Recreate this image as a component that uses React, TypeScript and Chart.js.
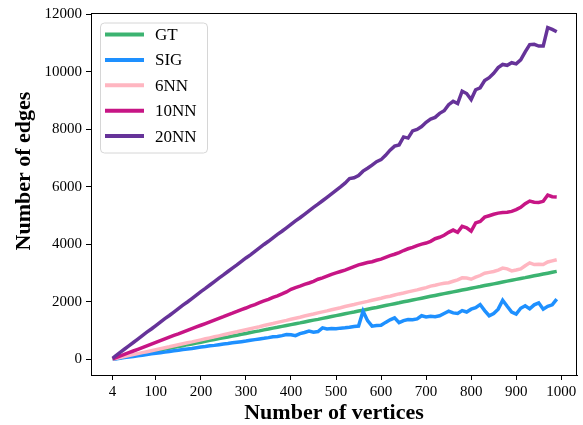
import React, { useEffect, useRef } from "react";
import { Chart, registerables } from "chart.js";

Chart.register(...registerables);

const vertices = [4, 10, 20, 30, 40, 50, 60, 70, 80, 90, 100, 110, 120, 130, 140, 150, 160, 170, 180, 190, 200, 210, 220, 230, 240, 250, 260, 270, 280, 290, 300, 310, 320, 330, 340, 350, 360, 370, 380, 390, 400, 410, 420, 430, 440, 450, 460, 470, 480, 490, 500, 510, 520, 530, 540, 550, 560, 570, 580, 590, 600, 610, 620, 630, 640, 650, 660, 670, 680, 690, 700, 710, 720, 730, 740, 750, 760, 770, 780, 790, 800, 810, 820, 830, 840, 850, 860, 870, 880, 890, 900, 910, 920, 930, 940, 950, 960, 970, 980, 990];

const gt = [10, 30, 60, 90, 120, 150, 180, 212, 240, 272, 300, 330, 362, 390, 420, 452, 480, 515, 540, 575, 600, 632, 665, 690, 725, 755, 782, 815, 845, 875, 905, 935, 968, 995, 1030, 1058, 1090, 1118, 1150, 1180, 1212, 1245, 1272, 1305, 1335, 1368, 1395, 1430, 1460, 1492, 1525, 1555, 1588, 1620, 1650, 1685, 1715, 1748, 1780, 1810, 1845, 1875, 1908, 1940, 1970, 2005, 2035, 2068, 2100, 2132, 2165, 2196, 2228, 2258, 2290, 2320, 2352, 2382, 2415, 2444, 2475, 2508, 2537, 2570, 2599, 2630, 2662, 2692, 2725, 2754, 2785, 2818, 2847, 2880, 2909, 2940, 2972, 3002, 3035, 3064];

const sig = [5, 20, 40, 65, 85, 105, 130, 150, 170, 195, 215, 235, 255, 280, 300, 320, 345, 365, 385, 410, 430, 450, 475, 490, 515, 540, 555, 580, 600, 620, 640, 665, 690, 715, 735, 760, 790, 800, 830, 870, 860, 830, 900, 940, 985, 950, 970, 1100, 1060, 1080, 1070, 1090, 1100, 1120, 1150, 1160, 1680, 1350, 1160, 1180, 1190, 1290, 1380, 1450, 1280, 1350, 1390, 1380, 1410, 1520, 1480, 1500, 1490, 1520, 1600, 1680, 1620, 1600, 1700, 1650, 1750, 1800, 1910, 1700, 1520, 1600, 1750, 2060, 1850, 1650, 1580, 1780, 1870, 1760, 1900, 1970, 1750, 1850, 1900, 2100];

const nn6 = [13, 35, 68, 102, 135, 170, 203, 238, 270, 305, 338, 372, 408, 440, 476, 510, 545, 580, 612, 648, 682, 718, 752, 788, 822, 858, 893, 928, 962, 1000, 1035, 1070, 1108, 1140, 1180, 1215, 1250, 1290, 1325, 1360, 1400, 1435, 1470, 1510, 1545, 1580, 1620, 1655, 1690, 1730, 1765, 1800, 1840, 1875, 1910, 1950, 1985, 2020, 2060, 2095, 2130, 2170, 2200, 2240, 2280, 2310, 2350, 2385, 2420, 2460, 2500, 2550, 2580, 2620, 2650, 2670, 2720, 2770, 2840, 2830, 2790, 2860, 2920, 3000, 3030, 3060, 3110, 3180, 3150, 3080, 3110, 3150, 3260, 3360, 3300, 3310, 3300, 3390, 3430, 3470];

const nn10 = [20, 55, 115, 175, 235, 295, 355, 415, 475, 535, 595, 655, 715, 775, 835, 890, 950, 1010, 1070, 1130, 1190, 1250, 1310, 1370, 1430, 1490, 1555, 1610, 1670, 1735, 1790, 1855, 1910, 1975, 2035, 2090, 2160, 2215, 2280, 2350, 2440, 2500, 2550, 2610, 2660, 2720, 2790, 2840, 2900, 2960, 3010, 3060, 3110, 3170, 3230, 3290, 3330, 3370, 3400, 3450, 3490, 3550, 3610, 3660, 3720, 3790, 3850, 3900, 3960, 4010, 4050, 4110, 4200, 4250, 4320, 4420, 4500, 4420, 4630, 4580, 4460, 4750, 4800, 4950, 5000, 5050, 5090, 5110, 5120, 5150, 5210, 5290, 5420, 5510, 5470, 5460, 5500, 5720, 5660, 5650];

const nn20 = [40, 120, 240, 355, 475, 590, 710, 830, 950, 1060, 1180, 1300, 1420, 1530, 1650, 1770, 1890, 2000, 2120, 2240, 2360, 2470, 2590, 2710, 2830, 2940, 3060, 3180, 3290, 3410, 3530, 3640, 3760, 3880, 4000, 4110, 4230, 4350, 4460, 4580, 4700, 4820, 4930, 5050, 5170, 5290, 5400, 5520, 5640, 5760, 5880, 6000, 6130, 6290, 6320, 6400, 6550, 6650, 6760, 6880, 6950, 7100, 7280, 7420, 7460, 7740, 7700, 7950, 8000, 8100, 8250, 8360, 8420, 8560, 8650, 8860, 8980, 8900, 9330, 9250, 9040, 9380, 9450, 9700, 9800, 9950, 10150, 10260, 10230, 10320, 10280, 10420, 10700, 10950, 10960, 10900, 10900, 11540, 11480, 11400];

const seriesLabels = ["GT", "SIG", "6NN", "10NN", "20NN"];
const seriesColors = ["#3cb371", "#1e90ff", "#ffb6c1", "#c71585", "#663399"];
const seriesValues = [gt, sig, nn6, nn10, nn20];

const xTicks = [4, 100, 200, 300, 400, 500, 600, 700, 800, 900, 1000];
const yTicks = [0, 2000, 4000, 6000, 8000, 10000, 12000];

const FONT = "'Liberation Serif', 'Times New Roman', serif";

export default function App() {
  const ref = useRef<HTMLCanvasElement | null>(null);

  useEffect(() => {
    if (!ref.current) return;

    const decorations = {
      id: "decorations",
      afterDatasetsDraw(chart: any) {
        const { ctx, chartArea } = chart;
        ctx.save();
        // frame
        ctx.strokeStyle = "#000";
        ctx.lineWidth = 1;
        ctx.strokeRect(chartArea.left + 0.5, chartArea.top + 0.5, chartArea.right - chartArea.left - 1, chartArea.bottom - chartArea.top);

        // legend
        const lx = 100, ly = 22.5, lw = 107, lh = 130;
        ctx.beginPath();
        (ctx as any).roundRect(lx + 0.5, ly + 0.5, lw, lh, 4);
        ctx.fillStyle = "rgba(255,255,255,0.8)";
        ctx.fill();
        ctx.strokeStyle = "#d6d6d6";
        ctx.stroke();
        ctx.font = `17px ${FONT}`;
        ctx.textBaseline = "middle";
        ctx.textAlign = "left";
        chart.data.datasets.forEach((ds: any, i: number) => {
          const y = 34.5 + i * 25.4;
          ctx.strokeStyle = ds.borderColor;
          ctx.lineWidth = 4;
          ctx.beginPath();
          ctx.moveTo(105, y);
          ctx.lineTo(144, y);
          ctx.stroke();
          ctx.fillStyle = "#000";
          ctx.fillText(ds.label, 155, y + 1);
        });

        // axis titles
        ctx.fillStyle = "#000";
        ctx.font = `bold 22px ${FONT}`;
        ctx.textAlign = "center";
        ctx.textBaseline = "middle";
        ctx.fillText("Number of vertices", (chartArea.left + chartArea.right) / 2, 413);
        ctx.translate(24, 171);
        ctx.rotate(-Math.PI / 2);
        ctx.fillText("Number of edges", 0, 0);
        ctx.restore();
      },
    };

    const chart = new Chart(ref.current, {
      type: "line",
      data: {
        datasets: seriesLabels.map((label, i) => ({
          label,
          data: vertices.map((v, j) => ({ x: v, y: seriesValues[i][j] })),
          borderColor: seriesColors[i],
          backgroundColor: seriesColors[i],
          borderWidth: 3.5,
          pointRadius: 0,
          tension: 0,
          order: 5 - i,
        })),
      },
      options: {
        animation: false,
        responsive: false,
        layout: { padding: { top: 13, right: 6, left: 0, bottom: 0 } },
        plugins: { legend: { display: false }, tooltip: { enabled: false } },
        scales: {
          x: {
            type: "linear",
            min: -44,
            max: 1035,
            afterBuildTicks: (scale: any) => {
              scale.ticks = xTicks.map((v) => ({ value: v }));
            },
            afterFit: (scale: any) => {
              scale.height = 50;
            },
            grid: { drawOnChartArea: false, drawTicks: true, tickLength: 5, color: "#000" },
            border: { display: true, color: "#000", width: 1 },
            ticks: {
              color: "#000",
              font: { family: FONT, size: 15 },
              padding: 3,
              maxRotation: 0,
              autoSkip: false,
              callback: (v: any) => String(v),
            },
          },
          y: {
            type: "linear",
            min: -540,
            max: 12050,
            afterBuildTicks: (scale: any) => {
              scale.ticks = yTicks.map((v) => ({ value: v }));
            },
            afterFit: (scale: any) => {
              scale.width = 91;
            },
            grid: { drawOnChartArea: false, drawTicks: true, tickLength: 5, color: "#000" },
            border: { display: true, color: "#000", width: 1 },
            ticks: {
              color: "#000",
              font: { family: FONT, size: 15 },
              padding: 4,
              autoSkip: false,
              callback: (v: any) => String(v),
            },
          },
        },
      },
      plugins: [decorations],
    });

    return () => chart.destroy();
  }, []);

  return (
    <div style={{ position: "absolute", left: 0, top: 0, width: 583, height: 425, background: "#fff" }}>
      <canvas ref={ref} width={583} height={425} style={{ width: 583, height: 425 }} />
    </div>
  );
}
